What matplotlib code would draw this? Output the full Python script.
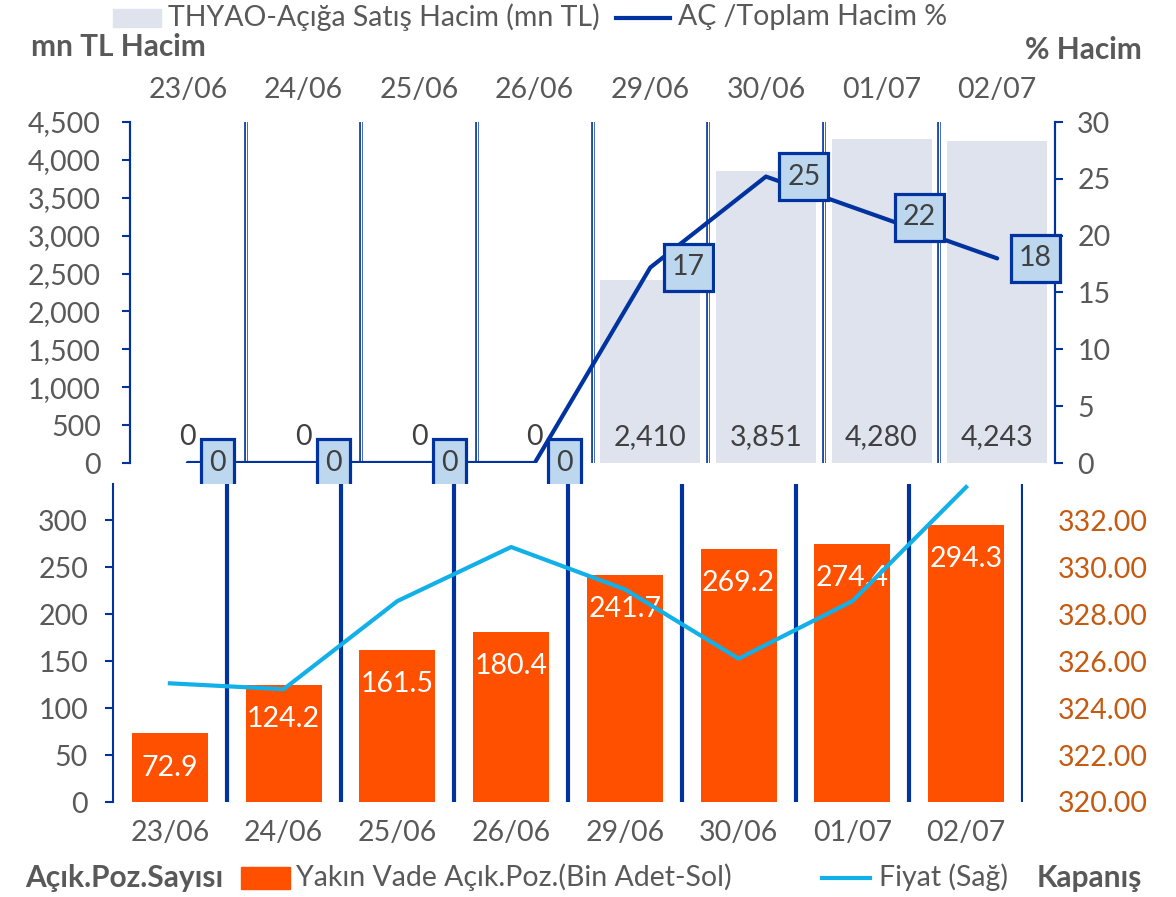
import matplotlib
matplotlib.use("Agg")
import matplotlib.pyplot as plt
import matplotlib.transforms as mtransforms
from matplotlib.patches import Rectangle
from matplotlib.lines import Line2D
from matplotlib.ticker import FuncFormatter

# data
dates = ["23/06", "24/06", "25/06", "26/06", "29/06", "30/06", "01/07", "02/07"]
short_vol = [0, 0, 0, 0, 2410, 3851, 4280, 4243]          # mn TL
short_pct = [0, 0, 0, 0, 17.2, 25.2, 21.6, 18.0]           # % of total volume
pct_labels = ["0", "0", "0", "0", "17", "25", "22", "18"]
open_pos = [72.9, 124.2, 161.5, 180.4, 241.7, 269.2, 274.4, 294.3]   # bin adet
price = [325.05, 324.8, 328.55, 330.85, 329.05, 326.1, 328.55, 333.4]

BLUE = "#0033a0"
GREY = "#595959"
DARK = "#404040"
BAR_TOP = "#dfe3ee"
BOX = "#bdd7ee"
ORANGE = "#ff5000"
CYAN = "#12b0e8"
BROWN = "#c55a11"
FS = 20.5
FSB = 21.5

plt.rcParams["font.family"] = ["Lato", "DejaVu Sans"]
plt.rcParams["font.size"] = FS

W, H = 1176, 897
fig = plt.figure(figsize=(W / 100, H / 100), dpi=100)


def rect(l, t, r, b):
    return [l / W, 1 - b / H, (r - l) / W, (b - t) / H]


def fpt(x, y):
    return x / W, 1 - y / H


x = list(range(len(dates)))

# ---------- top panel ----------
ax = fig.add_axes(rect(130, 122, 1055, 463))
ax2 = ax.twinx()
ax.set_xlim(-0.5, 7.5)
ax.set_ylim(0, 4500)
ax2.set_ylim(0, 30)

ax.bar(x, short_vol, width=0.865, color=BAR_TOP, zorder=2)
for i, v in enumerate(short_vol):
    ax.annotate(f"{v:,.0f}", (i, 0), xytext=(0, 19), textcoords="offset points",
                ha="center", va="center", color=DARK, zorder=4)

for b in [i + 0.5 for i in range(7)]:
    ax.axvline(b, color=BLUE, lw=2.6, zorder=3)
    ax.axvline(b, color="white", lw=0.9, zorder=3)

ax2.plot(x, short_pct, color=BLUE, lw=3, solid_capstyle="round", zorder=5)
# boxed labels, sized in pixels, placed right of each point
for i, (v, s) in enumerate(zip(short_pct, pct_labels)):
    tr = fig.dpi_scale_trans + mtransforms.ScaledTranslation(i, v, ax2.transData)
    bw = (17 + 16 * len(s)) / 100
    bh = 47 / 100
    x0 = 13.5 / 100
    ax2.add_patch(Rectangle((x0, -bh / 2), bw, bh, transform=tr, fc=BOX, ec=BLUE,
                            lw=2.3, zorder=6, clip_on=False))
    ax2.text(x0 + bw / 2, 0, s, transform=tr, ha="center", va="center",
             color=DARK, zorder=7, clip_on=False)

ax.set_yticks(range(0, 4501, 500))
ax.yaxis.set_major_formatter(FuncFormatter(lambda v, p: f"{v:,.0f}"))
ax2.set_yticks(range(0, 31, 5))
ax.xaxis.tick_top()
ax.set_xticks(x)
ax.set_xticklabels(dates)
ax.tick_params(axis="x", length=0, pad=14, colors=GREY)
ax.tick_params(axis="y", length=6, width=1.5, color=BLUE, pad=15, labelcolor=GREY)
ax2.tick_params(axis="y", length=6, width=1.5, color=BLUE, pad=10, labelcolor=GREY)
for a in (ax, ax2):
    for side in ("top", "bottom"):
        a.spines[side].set_visible(False)
    a.spines["left"].set_color(BLUE)
    a.spines["right"].set_color(BLUE)
    a.spines["left"].set_linewidth(1.5)
    a.spines["right"].set_linewidth(1.5)

# ---------- bottom panel ----------
bx = fig.add_axes(rect(113, 484, 1023, 802))
bx2 = bx.twinx()
bx.set_xlim(-0.5, 7.5)
bx.set_ylim(0, 338.3)
bx2.set_ylim(320, 320 + 338.3 / 300 * 12)

bx.bar(x, open_pos, width=0.67, color=ORANGE, zorder=2)
for i, v in enumerate(open_pos):
    bx.annotate(f"{v:.1f}", (i, v), xytext=(0, -24.5), textcoords="offset points",
                ha="center", va="center", color="white", zorder=4)
for b in [i + 0.5 for i in range(8)]:
    bx.axvline(b, color=BLUE, lw=3, zorder=3)

bx2.plot(x, price, color=CYAN, lw=3, zorder=5)

bx.set_xticks(x)
bx.set_xticklabels(dates)
bx.set_yticks(range(0, 301, 50))
bx2.set_yticks(range(320, 333, 2))
bx2.yaxis.set_major_formatter(FuncFormatter(lambda v, p: f"{v:.2f}"))
bx.tick_params(axis="x", length=0, pad=13, colors=GREY)
bx.tick_params(axis="y", length=6, width=1.5, color=BLUE, pad=12, labelcolor=GREY)
bx2.tick_params(axis="y", length=0, pad=25, labelcolor=BROWN)
for a in (bx, bx2):
    for side in ("top", "bottom", "right"):
        a.spines[side].set_visible(False)
    a.spines["left"].set_color(BLUE)
    a.spines["left"].set_linewidth(1.5)
bx2.spines["left"].set_visible(False)

# ---------- titles and legends ----------
fig.text(*fpt(31, 47), "mn TL Hacim", fontsize=FSB, fontweight="bold", color=GREY, va="center")
fig.text(*fpt(1142, 50), "% Hacim", fontsize=FSB, fontweight="bold", color=GREY, va="center", ha="right")

fig.patches.append(Rectangle(fpt(113, 27), 48 / W, 18 / H, transform=fig.transFigure,
                             color=BAR_TOP, figure=fig))
fig.text(*fpt(168, 17), "THYAO-Açığa Satış Hacim (mn TL)", color=GREY, va="center")
fig.lines.append(Line2D([616 / W, 670 / W], [1 - 18 / H] * 2, transform=fig.transFigure,
                        color=BLUE, lw=3, figure=fig))
fig.text(*fpt(678, 17), "AÇ /Toplam Hacim %", color=GREY, va="center")

fig.text(*fpt(25, 878), "Açık.Poz.Sayısı", fontsize=FSB, fontweight="bold", color=GREY, va="center")
fig.patches.append(Rectangle(fpt(241, 889), 49 / W, 22 / H, transform=fig.transFigure,
                             color=ORANGE, figure=fig))
fig.text(*fpt(296, 877), "Yakın Vade Açık.Poz.(Bin Adet-Sol)", color=GREY, va="center")
fig.lines.append(Line2D([822 / W, 870 / W], [1 - 878 / H] * 2, transform=fig.transFigure,
                        color=CYAN, lw=3, figure=fig))
fig.text(*fpt(879, 877), "Fiyat (Sağ)", color=GREY, va="center")
fig.text(*fpt(1142, 878), "Kapanış", fontsize=FSB, fontweight="bold", color=GREY, va="center", ha="right")

fig.savefig("out.png", dpi=100)
